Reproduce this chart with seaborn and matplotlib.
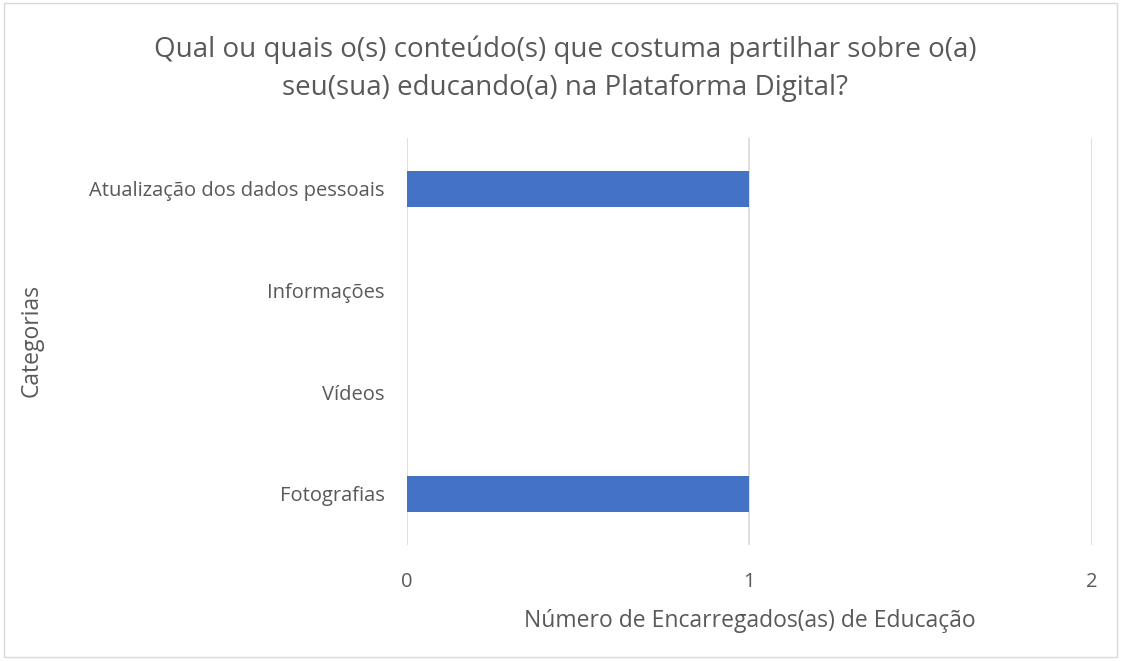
import matplotlib
matplotlib.use("Agg")
import matplotlib.pyplot as plt
import seaborn as sns
import pandas as pd
from matplotlib.patches import Rectangle

categories = ["Atualização dos dados pessoais", "Informações", "Vídeos", "Fotografias"]
counts = [1, 0, 0, 1]
x_ticks = [0, 1, 2]

title = "Qual ou quais o(s) conteúdo(s) que costuma partilhar sobre o(a)\nseu(sua) educando(a) na Plataforma Digital?"
x_label = "Número de Encarregados(as) de Educação"
y_label = "Categorias"

df = pd.DataFrame({"Categoria": categories, "Contagem": counts})

sns.set_style("white")
plt.rcParams["font.family"] = ["Open Sans", "DejaVu Sans"]
text_color = "#595959"

fig = plt.figure(figsize=(11.21, 6.61), dpi=100)
ax = fig.add_axes([0.363, 0.176, 0.611, 0.615])

sns.barplot(data=df, x="Contagem", y="Categoria", order=categories,
            color="#4472C4", width=0.35, saturation=1, linewidth=0, ax=ax)

ax.set_xlim(0, 2)
ax.set_ylim(3.5, -0.5)
ax.set_xticks(x_ticks)
ax.set_xticklabels([str(t) for t in x_ticks])
ax.grid(axis="x", color="#D9D9D9", linewidth=1.2)
ax.set_axisbelow(True)
for s in ax.spines.values():
    s.set_visible(False)
ax.tick_params(axis="both", length=0, labelsize=14.5, labelcolor=text_color)
ax.tick_params(axis="x", pad=20)
ax.tick_params(axis="y", pad=16)

ax.set_xlabel(x_label, fontsize=16.5, color=text_color, labelpad=12)
ax.set_ylabel("")
fig.text(0.028, 0.485, y_label, rotation=90, fontsize=16.5, color=text_color,
         ha="center", va="center")

fig.text(0.504, 0.896, title, ha="center", va="center", fontsize=20,
         color=text_color, linespacing=1.5)

fig.patches.append(Rectangle((0.004, 0.006), 0.992, 0.99, transform=fig.transFigure,
                             fill=False, edgecolor="#D9D9D9", linewidth=1))

fig.savefig("out.png", dpi=100)
